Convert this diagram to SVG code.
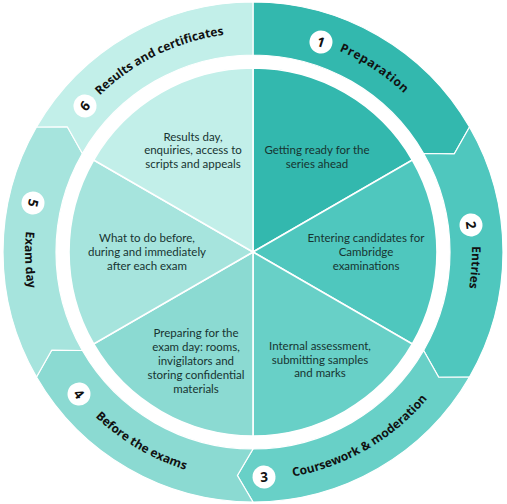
<svg xmlns="http://www.w3.org/2000/svg" xmlns:xlink="http://www.w3.org/1999/xlink" width="507" height="504" viewBox="0 0 507 504">
<style>
.ring{stroke:#fff;stroke-width:1.2;stroke-linejoin:round}
.slice{stroke:#fff;stroke-width:1.6}
.lbl{font-family:"Open Sans","Noto Sans",sans-serif;font-weight:700;font-size:12px;fill:#111}
.numc{fill:#fff}
.num{font-family:"Open Sans","Noto Sans",sans-serif;font-weight:700;font-size:13.5px;fill:#111;text-anchor:middle}
.inner{font-family:Lato,"Liberation Sans",sans-serif;font-size:11.5px;fill:#173431;text-anchor:middle}
.c1{fill:#33b8ae}.c2{fill:#4fc7be}.c3{fill:#68d0c7}.c4{fill:#8bdad2}.c5{fill:#a6e4dd}.c6{fill:#c2efe9}
</style>
<defs>
<path id="p1" d="M190.8,42 A219,219 0 0 1 470.6,227.2"/>
<path id="p2" d="M405.1,94.5 A219,219 0 0 1 381.7,429.2"/>
<path id="p3" d="M175,466.3 A228,228 0 0 0 477.5,291.6"/>
<path id="p4" d="M28.1,289.6 A228,228 0 0 0 329.1,466.9"/>
<path id="p5" d="M100.4,82.6 A228,228 0 0 0 112.6,431.7"/>
<path id="p6" d="M40.5,199 A219,219 0 0 1 342.1,51.9"/>
</defs>
<rect width="507" height="504" fill="#fff"/>

<g id="step1">
<path class="ring c1" d="M253,2 A250,250 0 0 1 469.51,127 L454.33,153.81 L423.61,153.5 A197,197 0 0 0 253,55 Z"/>
<path class="slice c1" d="M253,252 L253,68 A184,184 0 0 1 412.35,160 Z"/>
<g transform="translate(321,42) rotate(18)"><circle class="numc" r="11.5"/><text class="num" y="4.8">1</text></g>
<text class="lbl" letter-spacing="0.6"><textPath xlink:href="#p1" href="#p1" startOffset="50%" text-anchor="middle">Preparation</textPath></text>
<text class="inner"><tspan x="317" y="154">Getting ready for the</tspan><tspan x="317" y="168">series ahead</tspan></text>
</g>

<g id="step2">
<path class="ring c2" d="M469.51,127 A250,250 0 0 1 469.51,377 L438.70,377.26 L423.61,350.5 A197,197 0 0 0 423.61,153.5 L454.33,153.81 Z"/>
<path class="slice c2" d="M253,252 L412.35,160 A184,184 0 0 1 412.35,344 Z"/>
<g transform="translate(471,225) rotate(83)"><circle class="numc" r="11.5"/><text class="num" y="4.8">2</text></g>
<text class="lbl"><textPath xlink:href="#p2" href="#p2" startOffset="50%" text-anchor="middle">Entries</textPath></text>
<text class="inner"><tspan x="366" y="242">Entering candidates for</tspan><tspan x="366" y="256">Cambridge</tspan><tspan x="366" y="270">examinations</tspan></text>
</g>

<g id="step3">
<path class="ring c3" d="M469.51,377 A250,250 0 0 1 253,502 L237.37,475.45 L253,449 A197,197 0 0 0 423.61,350.5 L438.70,377.26 Z"/>
<path class="slice c3" d="M253,252 L412.35,344 A184,184 0 0 1 253,436 Z"/>
<g transform="translate(264,477) rotate(-3)"><circle class="numc" r="11.5"/><text class="num" y="4.8">3</text></g>
<text class="lbl"><textPath xlink:href="#p3" href="#p3" startOffset="50%" text-anchor="middle">Coursework &amp; moderation</textPath></text>
<text class="inner"><tspan x="320" y="350">Internal assessment,</tspan><tspan x="320" y="364">submitting samples</tspan><tspan x="320" y="377">and marks</tspan></text>
</g>

<g id="step4">
<path class="ring c4" d="M253,502 A250,250 0 0 1 36.49,377 L51.67,350.19 L82.39,350.5 A197,197 0 0 0 253,449 L237.37,475.45 Z"/>
<path class="slice c4" d="M253,252 L253,436 A184,184 0 0 1 93.65,344 Z"/>
<g transform="translate(79,394) rotate(51)"><circle class="numc" r="11.5"/><text class="num" y="4.8">4</text></g>
<text class="lbl"><textPath xlink:href="#p4" href="#p4" startOffset="50%" text-anchor="middle">Before the exams</textPath></text>
<text class="inner"><tspan x="196" y="337">Preparing for the</tspan><tspan x="196" y="351">exam day: rooms,</tspan><tspan x="196" y="365">invigilators and</tspan><tspan x="196" y="379">storing confidential</tspan><tspan x="196" y="393">materials</tspan></text>
</g>

<g id="step5">
<path class="ring c5" d="M36.49,377 A250,250 0 0 1 36.49,127 L67.30,126.74 L82.39,153.5 A197,197 0 0 0 82.39,350.5 L51.67,350.19 Z"/>
<path class="slice c5" d="M253,252 L93.65,344 A184,184 0 0 1 93.65,160 Z"/>
<g transform="translate(33,203) rotate(102.6)"><circle class="numc" r="11.5"/><text class="num" y="4.8">5</text></g>
<text class="lbl"><textPath xlink:href="#p5" href="#p5" startOffset="50%" text-anchor="middle">Exam day</textPath></text>
<text class="inner"><tspan x="147" y="242">What to do before,</tspan><tspan x="147" y="256">during and immediately</tspan><tspan x="147" y="270">after each exam</tspan></text>
</g>

<g id="step6">
<path class="ring c6" d="M36.49,127 A250,250 0 0 1 253,2 L253,55 A197,197 0 0 0 82.39,153.5 L67.30,126.74 Z"/>
<path class="slice c6" d="M253,252 L93.65,160 A184,184 0 0 1 253,68 Z"/>
<g transform="translate(85,106) rotate(-49)"><circle class="numc" r="11.5"/><text class="num" y="4.8">6</text></g>
<text class="lbl"><textPath xlink:href="#p6" href="#p6" startOffset="50%" text-anchor="middle">Results and certificates</textPath></text>
<text class="inner"><tspan x="193" y="141">Results day,</tspan><tspan x="193" y="154">enquiries, access to</tspan><tspan x="193" y="168">scripts and appeals</tspan></text>
</g>
</svg>
